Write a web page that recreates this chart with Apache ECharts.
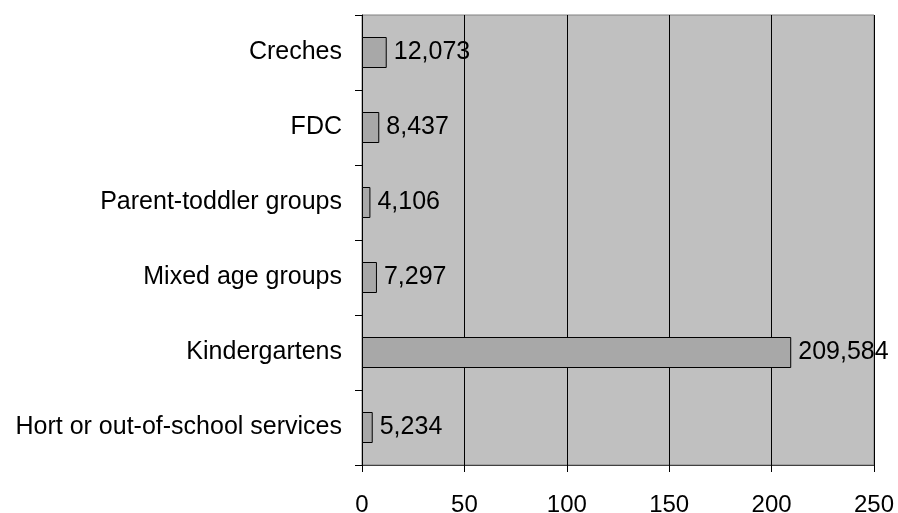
<!DOCTYPE html>
<html>
<head>
<meta charset="utf-8">
<script src="https://cdn.jsdelivr.net/npm/echarts@6/dist/echarts.min.js"></script>
<style>
  html, body { margin: 0; padding: 0; background: #ffffff; }
  #chart { width: 898px; height: 513px; }
</style>
</head>
<body>
<div id="chart"></div>
<script>
// Children in day care by type of service (counts; axis in thousands)
const categories = [
  'Creches',
  'FDC',
  'Parent-toddler groups',
  'Mixed age groups',
  'Kindergartens',
  'Hort or out-of-school services'
];
const counts = [12073, 8437, 4106, 7297, 209584, 5234];
const axisTicks = [0, 50, 100, 150, 200, 250];

const fmt = n => n.toString().replace(/\B(?=(\d{3})+(?!\d))/g, ',');

const chart = echarts.init(document.getElementById('chart'), null, { renderer: 'canvas' });
chart.setOption({
  animation: false,
  textStyle: { fontFamily: 'Liberation Sans, Arial, sans-serif' },
  grid: {
    left: 362, top: 15, width: 512, height: 450,
    outerBoundsMode: 'none',
    containLabel: false,
    show: true, backgroundColor: '#c0c0c0', borderColor: '#808080', borderWidth: 1
  },
  xAxis: {
    type: 'value',
    min: axisTicks[0],
    max: axisTicks[axisTicks.length - 1],
    interval: axisTicks[1] - axisTicks[0],
    axisLine: { show: true, lineStyle: { color: '#404040', width: 1 } },
    axisTick: { show: true, length: 7, lineStyle: { color: '#000' } },
    splitLine: { show: true, lineStyle: { color: '#000', width: 1 } },
    axisLabel: { color: '#000', fontSize: 24, margin: 28 }
  },
  yAxis: {
    type: 'category',
    inverse: true,
    data: categories,
    axisLine: { show: true, lineStyle: { color: '#000', width: 1 } },
    axisTick: { show: true, length: 7, lineStyle: { color: '#000' } },
    axisLabel: { color: '#000', fontSize: 25, margin: 20 }
  },
  series: [{
    type: 'bar',
    data: counts.map(v => v / 1000),
    barWidth: 31,
    itemStyle: { color: '#a8a8a8', borderColor: '#000', borderWidth: 1 },
    label: {
      show: true,
      position: 'right',
      distance: 7,
      color: '#000',
      fontSize: 25,
      formatter: p => fmt(counts[p.dataIndex])
    }
  }]
});
</script>
</body>
</html>
